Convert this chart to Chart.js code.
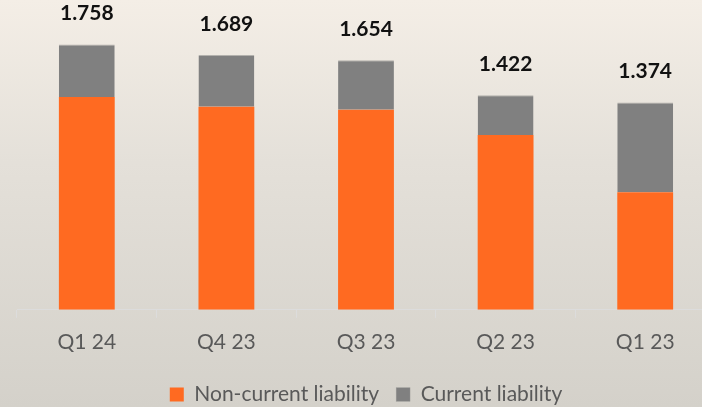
<!DOCTYPE html>
<html>
<head>
<meta charset="utf-8">
<script src="https://cdn.jsdelivr.net/npm/chart.js@4"></script>
<style>
    html, body {
        margin: 0;
        padding: 0;
        width: 702px;
        height: 407px;
        overflow: hidden;
        background: linear-gradient(to bottom, #f4eee6 0%, #e4e0d9 40%, #d4d1ca 100%);
    }
    #wrap {
        position: absolute;
        left: 0;
        top: 0;
        width: 720px;
        height: 407px;
    }
</style>
</head>
<body>
<div id="wrap"><canvas id="myChart"></canvas></div>
<script>
// quarters, newest first
var quarters = ['Q1 24', 'Q4 23', 'Q3 23', 'Q2 23', 'Q1 23'];
var nonCurrent = [1.411, 1.345, 1.325, 1.158, 0.779];
var current = [0.347, 0.344, 0.329, 0.264, 0.595];
var totalLabels = ['1.758', '1.689', '1.654', '1.422', '1.374'];

var textFont = 'Lato, "Open Sans", sans-serif';

// writes the totals above each stack
var totalsPlugin = {
    id: 'totals',
    afterDatasetsDraw: function (chart) {
        var c = chart.ctx;
        var xScale = chart.scales.x;
        var yScale = chart.scales.y;
        c.save();
        c.font = 'bold 21px ' + textFont;
        c.fillStyle = '#111111';
        c.textAlign = 'center';
        c.textBaseline = 'middle';
        for (var i = 0; i < quarters.length; i++) {
            var x = xScale.getPixelForValue(i);
            var y = yScale.getPixelForValue(nonCurrent[i] + current[i]);
            c.fillText(totalLabels[i], x, y - 31);
        }
        c.restore();
    }
};

document.addEventListener('DOMContentLoaded', function () {
    var ctx = document.getElementById('myChart');
    new Chart(ctx, {
        type: 'bar',
        data: {
            labels: quarters,
            datasets: [{
                label: 'Non-current liability',
                data: nonCurrent,
                backgroundColor: '#ff6a21'
            }, {
                label: 'Current liability',
                data: current,
                backgroundColor: '#808080',
                borderColor: '#b3b1ad',
                borderWidth: { top: 1, left: 0, right: 0, bottom: 0 },
                borderSkipped: false
            }]
        },
        options: {
            responsive: true,
            maintainAspectRatio: false,
            animation: false,
            categoryPercentage: 1,
            barPercentage: 0.4,
            layout: {
                padding: { left: 17, right: 5, top: 8, bottom: -8 }
            },
            scales: {
                x: {
                    stacked: true,
                    offset: true,
                    grid: {
                        offset: true,
                        drawOnChartArea: false,
                        color: '#dcdcdc',
                        tickLength: 8
                    },
                    border: { color: '#dcdcdc', width: 1 },
                    ticks: {
                        color: '#595959',
                        padding: 12,
                        font: { family: textFont, size: 21 }
                    }
                },
                y: {
                    stacked: true,
                    display: false,
                    min: 0,
                    max: 2
                }
            },
            plugins: {
                legend: {
                    position: 'bottom',
                    labels: {
                        color: '#595959',
                        boxWidth: 14,
                        boxHeight: 14,
                        padding: 17,
                        font: { family: textFont, size: 21 }
                    }
                },
                tooltip: { enabled: false }
            }
        },
        plugins: [totalsPlugin]
    });
});
</script>
</body>
</html>
